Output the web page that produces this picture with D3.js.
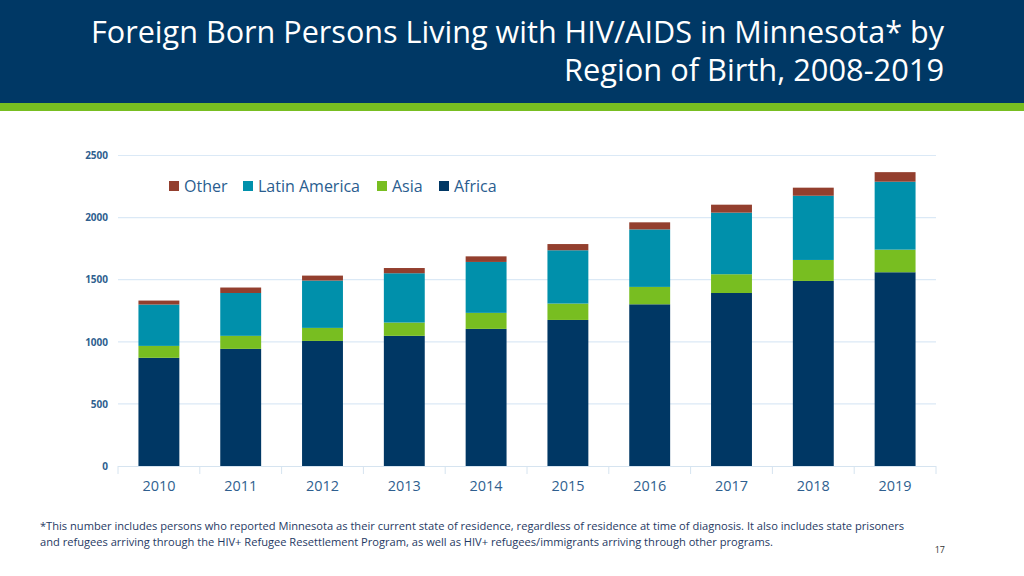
<!DOCTYPE html>
<html><head><meta charset="utf-8">
<script src="https://cdn.jsdelivr.net/npm/d3@7"></script>
<style>body{margin:0;background:#fff}svg{display:block}</style>
</head><body>
<svg id="c" width="1024" height="576"></svg>
<script>
const years = ["2010","2011","2012","2013","2014","2015","2016","2017","2018","2019"];
const africa = [871, 943, 1007, 1048, 1104, 1176, 1302, 1393, 1490, 1560];
const asia = [96, 105, 105, 107, 129, 132, 140, 151, 169, 182];
const latinAmerica = [333, 345, 381, 397, 410, 429, 463, 496, 517, 547];
const other = [32, 44, 40, 42, 45, 50, 57, 64, 65, 77];
const seriesNames = ["Africa","Asia","Latin America","Other"];
const legendOrder = ["Other","Latin America","Asia","Africa"];
const yTicks = [0, 500, 1000, 1500, 2000, 2500];
const colors = {"Africa":"#003764","Asia":"#78BE21","Latin America":"#0090AB","Other":"#933F2E"};

const svg = d3.select("#c");
// header
svg.append("rect").attr("x",0).attr("y",0).attr("width",1024).attr("height",103).attr("fill","#003865");
svg.append("rect").attr("x",0).attr("y",103).attr("width",1024).attr("height",8).attr("fill","#78BE21");
const tFont = "'Open Sans', sans-serif";
svg.append("text").attr("x",944).attr("y",43).attr("text-anchor","end").attr("fill","#fff")
  .attr("font-family",tFont).attr("font-size",31).attr("textLength",853).attr("lengthAdjust","spacingAndGlyphs")
  .text("Foreign Born Persons Living with HIV/AIDS in Minnesota* by");
svg.append("text").attr("x",944).attr("y",81).attr("text-anchor","end").attr("fill","#fff")
  .attr("font-family",tFont).attr("font-size",31).attr("textLength",380).attr("lengthAdjust","spacingAndGlyphs")
  .text("Region of Birth, 2008-2019");

const rows = years.map((y,i)=>({year:y,"Africa":africa[i],"Asia":asia[i],"Latin America":latinAmerica[i],"Other":other[i]}));
const stack = d3.stack().keys(seriesNames)(rows);

const x = d3.scaleBand().domain(years).range([118,936]).paddingInner(0.5).paddingOuter(0.25);
const y = d3.scaleLinear().domain([0,2500]).range([466,155.5]);

// gridlines
svg.append("g").selectAll("line").data(yTicks.filter(d=>d>0)).join("line")
  .attr("x1",118).attr("x2",936).attr("y1",d=>y(d)).attr("y2",d=>y(d))
  .attr("stroke","#dbe9f6").attr("stroke-width",1.2);

// y axis labels
const yAxis = d3.axisLeft(y).tickValues(yTicks).tickFormat(d3.format("d")).tickSize(0).tickPadding(0);
const yg = svg.append("g").attr("transform","translate(108,0)").call(yAxis);
yg.select(".domain").remove();
yg.selectAll("text").attr("font-family","'Open Sans', sans-serif").attr("font-size",10).attr("font-weight","bold").attr("fill","#2F5F8F");

// bars
svg.append("g").selectAll("g").data(stack).join("g").attr("fill",d=>colors[d.key])
  .selectAll("rect").data(d=>d).join("rect")
  .attr("x",d=>x(d.data.year)).attr("width",x.bandwidth())
  .attr("y",d=>y(d[1])).attr("height",d=>y(d[0])-y(d[1]));

// x axis
const xOuter = d3.scaleBand().domain(years).range([118,936]);
svg.append("line").attr("x1",118).attr("x2",936).attr("y1",466.5).attr("y2",466.5).attr("stroke","#d6e4f0").attr("stroke-width",1.2);
svg.append("g").selectAll("line").data(years.concat(["end"])).join("line")
  .attr("x1",(d,i)=>118+i*xOuter.step()).attr("x2",(d,i)=>118+i*xOuter.step())
  .attr("y1",466).attr("y2",474).attr("stroke","#d6e4f0");
const xAxis = d3.axisBottom(x).tickSize(0).tickPadding(0);
const xg = svg.append("g").attr("transform","translate(0,491)").call(xAxis);
xg.select(".domain").remove();
xg.selectAll("text").attr("dy",0).attr("font-family","'Open Sans', sans-serif").attr("font-size",14).attr("fill","#2F5F8F")
  .attr("textLength",33).attr("lengthAdjust","spacingAndGlyphs");

// legend
const legX = {"Other":169,"Latin America":243,"Asia":377,"Africa":439};
const lg = svg.append("g").selectAll("g").data(legendOrder).join("g").attr("transform",d=>`translate(${legX[d]},181)`);
lg.append("rect").attr("width",10).attr("height",10).attr("fill",d=>colors[d]);
lg.append("text").attr("x",15).attr("y",10.5).attr("font-family","'Open Sans', sans-serif").attr("font-size",16).attr("fill","#2A5D8F").text(d=>d);

// footnote
const fn = svg.append("g").attr("font-family","'Open Sans', sans-serif").attr("font-size",11).attr("fill","#1F3A64");
fn.append("text").attr("x",40).attr("y",530).attr("textLength",864).attr("lengthAdjust","spacingAndGlyphs")
  .text("*This number includes persons who reported Minnesota as their current state of residence, regardless of residence at time of diagnosis. It also includes state prisoners");
fn.append("text").attr("x",40).attr("y",546).attr("textLength",733).attr("lengthAdjust","spacingAndGlyphs")
  .text("and refugees arriving through the HIV+ Refugee Resettlement Program, as well as HIV+ refugees/immigrants arriving through other programs.");
svg.append("text").attr("x",945).attr("y",553).attr("text-anchor","end").attr("font-family","'Open Sans', sans-serif").attr("font-size",9).attr("fill","#333").text("17");
</script>
</body></html>
